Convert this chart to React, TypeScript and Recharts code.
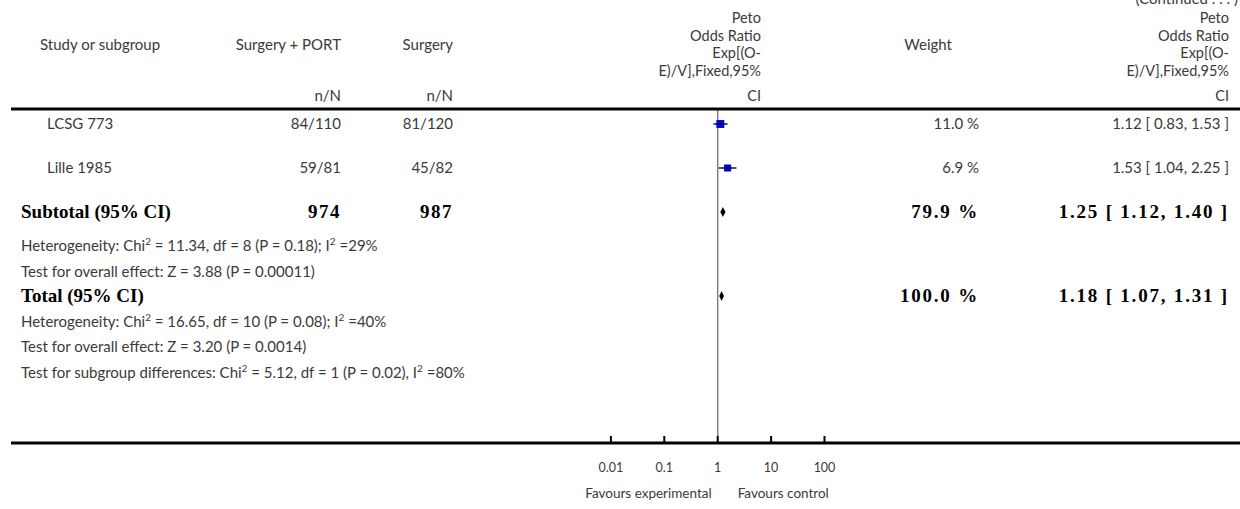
import { ComposedChart, Scatter, ErrorBar, XAxis, YAxis, ReferenceLine, ReferenceArea } from "recharts";

// studies
const STUDIES = ["LCSG 773", "Lille 1985"];
const PORT_EVENTS = [84, 59];
const PORT_TOTAL = [110, 81];
const SURGERY_EVENTS = [81, 45];
const SURGERY_TOTAL = [120, 82];
const WEIGHTS = [11.0, 6.9];
const ODDS = [1.12, 1.53];
const CI_LOW = [0.83, 1.04];
const CI_HIGH = [1.53, 2.25];

// pooled rows
const POOLED_LABELS = ["Subtotal (95% CI)", "Total (95% CI)"];
const POOLED_PORT = [974, null];
const POOLED_SURGERY = [987, null];
const POOLED_WEIGHT = [79.9, 100.0];
const POOLED_ODDS = [1.25, 1.18];
const POOLED_LOW = [1.12, 1.07];
const POOLED_HIGH = [1.4, 1.31];

const SUBTOTAL_NOTES = [
  "Heterogeneity: Chi² = 11.34, df = 8 (P = 0.18); I² =29%",
  "Test for overall effect: Z = 3.88 (P = 0.00011)",
];
const TOTAL_NOTES = [
  "Heterogeneity: Chi² = 16.65, df = 10 (P = 0.08); I² =40%",
  "Test for overall effect: Z = 3.20 (P = 0.0014)",
  "Test for subgroup differences: Chi² = 5.12, df = 1 (P = 0.02), I² =80%",
];

const TICKS = [0.01, 0.1, 1, 10, 100];
const OR_HEADER = ["Peto", "Odds Ratio", "Exp[(O-", "E)/V],Fixed,95%", "CI"];

// layout
const W = 1240;
const H = 509;
const LEFT = 11;
const RULE_Y = 109;
const AXIS_Y = 443;
const ONE_X = 717.7;
const DECADE = 53.4;
const X_DOMAIN = [-(ONE_X - LEFT) / DECADE, (W - ONE_X) / DECADE];

const COL_HEAD = 40;
const COL_STUDY = 47;
const COL_NOTE = 21;
const COL_PORT = 341;
const COL_SURG = 453;
const COL_OR_HEAD = 761;
const COL_WEIGHT_HEAD = 952;
const COL_WEIGHT = 979;
const COL_CI = 1229;
const OR_HEAD_Y = [23, 40.5, 58, 75.5, 101];

const SANS = "Lato, 'Open Sans', sans-serif";
const SERIF = "'Liberation Serif', 'DejaVu Serif', serif";
const GREY = "#3a3a3a";

const lg = (v: number) => Math.log10(v);
const fmtCI = (o: number, l: number, h: number) => `${o.toFixed(2)} [ ${l.toFixed(2)}, ${h.toFixed(2)} ]`;

// table lines, with the gap from the previous line
type Line =
  | { kind: "study"; i: number; gap: number }
  | { kind: "pooled"; i: number; gap: number }
  | { kind: "note"; text: string; gap: number };

const lines: Line[] = [
  ...STUDIES.map((_, i) => ({ kind: "study" as const, i, gap: i === 0 ? 15 : 44 })),
  { kind: "pooled", i: 0, gap: 44 },
  ...SUBTOTAL_NOTES.map((text, j) => ({ kind: "note" as const, text, gap: j === 0 ? 34 : 26 })),
  { kind: "pooled", i: 1, gap: 24 },
  ...TOTAL_NOTES.map((text) => ({ kind: "note" as const, text, gap: 25.5 })),
];
let acc = RULE_Y;
const placed = lines.map((l) => {
  acc += l.gap;
  return { ...l, y: acc };
});

const studyData = placed
  .filter((l) => l.kind === "study")
  .map((l) => {
    const i = (l as any).i as number;
    const x = lg(ODDS[i]);
    return { x, y: l.y, w: WEIGHTS[i], err: [x - lg(CI_LOW[i]), lg(CI_HIGH[i]) - x] };
  });

const pooledRows = placed
  .filter((l) => l.kind === "pooled")
  .map((l) => ({ i: (l as any).i as number, y: l.y }));

const Square = (p: any) => {
  const { cx, cy, payload } = p;
  const s = 3.6 + Math.sqrt(payload.w) * 1.3;
  return (
    <g>
      <rect x={cx - s / 2} y={cy - s / 2} width={s} height={s} fill="#0000f0" />
      <line x1={cx - s / 2 - 1} x2={cx + s / 2 + 1} y1={cy} y2={cy} stroke="#111" strokeWidth={1} />
      <line x1={cx} x2={cx} y1={cy - 2} y2={cy + 2} stroke="#111" strokeWidth={1} />
    </g>
  );
};

const diamond = (frac: number) => (p: any) => {
  const { x, y, width, height } = p;
  const mid = y + height / 2;
  const apex = x + width * frac;
  return <polygon points={`${x},${mid} ${apex},${y} ${x + width},${mid} ${apex},${y + height}`} fill="#000" />;
};

const AxisTick = (p: any) => {
  const { x, y, index } = p;
  return (
    <g>
      <line x1={x} x2={x} y1={y - 7} y2={y} stroke="#000" strokeWidth={2} />
      <text x={x} y={y + 29} textAnchor="middle" fontFamily={SANS} fontSize={12.5} fill={GREY}>
        {String(TICKS[index])}
      </text>
    </g>
  );
};

const T = (props: any) => <text fontFamily={SANS} fontSize={15} fill={GREY} {...props} />;
const B = (props: any) => <text fontFamily={SERIF} fontSize={19} fontWeight="bold" fill="#000" {...props} />;

// "Chi²" style text with a raised 2
const Sup = ({ text }: { text: string }) => {
  const parts = text.split("²");
  return (
    <>
      {parts.map((p, k) => (
        <tspan key={k}>
          {k > 0 && (
            <tspan dy={-6} fontSize={10}>
              2
            </tspan>
          )}
          <tspan dy={k > 0 ? 6 : 0}>{p}</tspan>
        </tspan>
      ))}
    </>
  );
};

function Table() {
  return (
    <svg width={W} height={H} style={{ position: "absolute", left: 0, top: 0, pointerEvents: "none" }}>
      <T x={1238} y={4} textAnchor="end">(Continued . . . )</T>
      <T x={COL_HEAD} y={50}>Study or subgroup</T>
      <T x={COL_PORT} y={50} textAnchor="end">Surgery + PORT</T>
      <T x={COL_SURG} y={50} textAnchor="end">Surgery</T>
      <T x={COL_PORT} y={101} textAnchor="end">n/N</T>
      <T x={COL_SURG} y={101} textAnchor="end">n/N</T>
      <T x={COL_WEIGHT_HEAD} y={50} textAnchor="end">Weight</T>
      {OR_HEADER.map((t, k) => (
        <g key={t}>
          <T x={COL_OR_HEAD} y={OR_HEAD_Y[k]} textAnchor="end" fontSize={14.5}>{t}</T>
          <T x={COL_CI} y={OR_HEAD_Y[k]} textAnchor="end" fontSize={14.5}>{t}</T>
        </g>
      ))}
      <line x1={LEFT} x2={W} y1={RULE_Y} y2={RULE_Y} stroke="#000" strokeWidth={3} />
      {placed.map((l, k) => {
        if (l.kind === "study") {
          const i = l.i;
          const yb = l.y + 5;
          return (
            <g key={k}>
              <T x={COL_STUDY} y={yb}>{STUDIES[i]}</T>
              <T x={COL_PORT} y={yb} textAnchor="end">{`${PORT_EVENTS[i]}/${PORT_TOTAL[i]}`}</T>
              <T x={COL_SURG} y={yb} textAnchor="end">{`${SURGERY_EVENTS[i]}/${SURGERY_TOTAL[i]}`}</T>
              <T x={COL_WEIGHT} y={yb} textAnchor="end">{`${WEIGHTS[i].toFixed(1)} %`}</T>
              <T x={COL_CI} y={yb} textAnchor="end">{fmtCI(ODDS[i], CI_LOW[i], CI_HIGH[i])}</T>
            </g>
          );
        }
        if (l.kind === "pooled") {
          const i = l.i;
          const yb = l.y + 6;
          return (
            <g key={k}>
              <B x={COL_NOTE} y={yb}>{POOLED_LABELS[i]}</B>
              {POOLED_PORT[i] != null && (
                <B x={COL_PORT} y={yb} textAnchor="end" letterSpacing={1.5}>{POOLED_PORT[i]}</B>
              )}
              {POOLED_SURGERY[i] != null && (
                <B x={COL_SURG} y={yb} textAnchor="end" letterSpacing={1.5}>{POOLED_SURGERY[i]}</B>
              )}
              <B x={COL_WEIGHT} y={yb} textAnchor="end" letterSpacing={1.8}>{`${POOLED_WEIGHT[i].toFixed(1)} %`}</B>
              <B x={COL_CI} y={yb} textAnchor="end" letterSpacing={1.8}>
                {fmtCI(POOLED_ODDS[i], POOLED_LOW[i], POOLED_HIGH[i])}
              </B>
            </g>
          );
        }
        return (
          <T key={k} x={COL_NOTE} y={l.y + 5}>
            <Sup text={l.text} />
          </T>
        );
      })}
      <T x={ONE_X - 6} y={498} textAnchor="end" fontSize={13.5}>Favours experimental</T>
      <T x={ONE_X + 20} y={498} fontSize={13.5}>Favours control</T>
    </svg>
  );
}

export default function App() {
  return (
    <div style={{ position: "absolute", left: 0, top: 0, width: W, height: H, background: "#fff" }}>
      <ComposedChart width={W} height={H} margin={{ top: RULE_Y, right: 0, bottom: 0, left: LEFT }}>
        <XAxis
          type="number"
          dataKey="x"
          domain={X_DOMAIN}
          allowDataOverflow
          ticks={TICKS.map(lg)}
          interval={0}
          height={H - AXIS_Y}
          tickSize={0}
          tickMargin={0}
          tickLine={false}
          axisLine={{ stroke: "#000", strokeWidth: 3 }}
          tick={<AxisTick />}
        />
        <YAxis type="number" dataKey="y" domain={[RULE_Y, AXIS_Y]} reversed hide allowDataOverflow />
        <ReferenceLine x={0} stroke="#808080" strokeWidth={1.5} />
        <Scatter data={studyData} shape={<Square />} isAnimationActive={false}>
          <ErrorBar dataKey="err" direction="x" width={0} stroke="#222" strokeWidth={1.5} isAnimationActive={false} />
        </Scatter>
        {pooledRows.map(({ i, y }) => (
          <ReferenceArea
            key={i}
            x1={lg(POOLED_LOW[i])}
            x2={lg(POOLED_HIGH[i])}
            y1={y - 5}
            y2={y + 5}
            shape={diamond((lg(POOLED_ODDS[i]) - lg(POOLED_LOW[i])) / (lg(POOLED_HIGH[i]) - lg(POOLED_LOW[i])))}
          />
        ))}
      </ComposedChart>
      <Table />
    </div>
  );
}
